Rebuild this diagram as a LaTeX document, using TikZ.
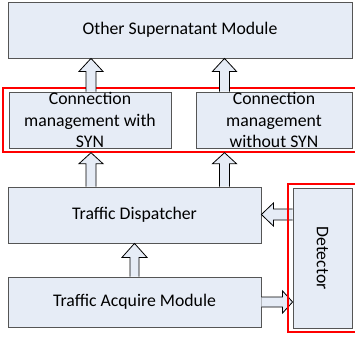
\documentclass[tikz,border=0pt]{standalone}
\usepackage{fontspec}
\setmainfont{Carlito}
\usepackage{graphicx}
\usetikzlibrary{calc}
\definecolor{boxfill}{RGB}{230,236,246}
\definecolor{boxline}{RGB}{85,85,85}

% vertical block arrow: base #1, tip #2, half shaft #3, half head #4, head length #5
\newcommand\fatv[5]{%
  \draw[fat] let \p1=(#1), \p2=(#2), \n1={sign(\y1-\y2)} in
    ({\x1-#3},\y1) -- ({\x1-#3},{\y2+\n1*#5}) -- ({\x1-#4},{\y2+\n1*#5}) -- (\x1,\y2)
    -- ({\x1+#4},{\y2+\n1*#5}) -- ({\x1+#3},{\y2+\n1*#5}) -- ({\x1+#3},\y1);}
% horizontal block arrow: base #1, tip #2, half shaft #3, half head #4, head length #5
\newcommand\fath[5]{%
  \draw[fat] let \p1=(#1), \p2=(#2), \n1={sign(\x1-\x2)} in
    (\x1,{\y1-#3}) -- ({\x2+\n1*#5},{\y1-#3}) -- ({\x2+\n1*#5},{\y1-#4}) -- (\x2,\y1)
    -- ({\x2+\n1*#5},{\y1+#4}) -- ({\x2+\n1*#5},{\y1+#3}) -- (\x1,{\y1+#3});}

\begin{document}
\begin{tikzpicture}[x=1bp,y=-1bp,
  module/.style={draw=boxline, fill=boxfill, line width=0.8bp, inner sep=0pt},
  label text/.style={inner sep=0pt, align=center, font=\fontsize{17.8}{22}\selectfont},
  group/.style={draw=red, line width=1.4bp, inner sep=0pt, fill=none},
  fat/.style={draw=black, fill=boxfill, line width=0.8bp, line join=miter}]
  \useasboundingbox (0,0) rectangle (355,337);

  % modules
  \node[module, minimum width=344bp, minimum height=56bp] (top) at (180,30) {};
  \node[label text] (toptext) at (top) {Other Supernatant Module};
  \node[module, minimum width=162bp, minimum height=56bp] (conn1) at (90,120) {};
  \node[label text] (conn1text) at (conn1) {Connection\\management with\\SYN};
  \node[module, minimum width=156bp, minimum height=56bp] (conn2) at (274,120) {};
  \node[label text] (conn2text) at (conn2) {Connection\\management\\without SYN};
  \node[module, minimum width=253bp, minimum height=56bp] (dispatch) at (134.5,215) {};
  \node[label text] (dispatchtext) at (dispatch) {Traffic Dispatcher};
  \node[module, minimum width=253bp, minimum height=50bp] (acquire) at (134.5,302) {};
  \node[label text] (acquiretext) at (acquire) {Traffic Acquire Module};
  \node[module, minimum width=59bp, minimum height=140bp] (detector) at (322.5,258) {};
  \node[label text] (detectortext) at (detector) {\rotatebox{-90}{Detector}};

  % red frame round the connection managers, open past the right edge
  \node[group, minimum width=365bp, minimum height=64bp] (connset) at (185.5,120) {};

  % arrow columns and rows
  \coordinate (colA) at (91,0);
  \coordinate (colB) at (224.5,0);
  \coordinate (rowA) at (0,214.5);
  \coordinate (rowB) at (0,302);

  % block arrows
  \fatv{conn1.north -| colA}{top.south -| colA}{5bp}{12bp}{13bp}
  \fatv{conn2.north -| colB}{top.south -| colB}{5bp}{12bp}{13bp}
  \fatv{dispatch.north -| colA}{connset.south -| colA}{5bp}{12bp}{11bp}
  \fatv{dispatch.north -| colB}{connset.south -| colB}{5bp}{12bp}{11bp}
  \fatv{acquire.north}{dispatch.south}{4.5bp}{12.5bp}{14bp}
  \fath{detector.west |- rowA}{dispatch.east |- rowA}{5.5bp}{11.5bp}{12bp}
  \fath{acquire.east |- rowB}{detector.west |- rowB}{5bp}{11bp}{10bp}

  % red frame round the detector, open past the right edge
  \node[group, minimum width=79bp, minimum height=148bp] (detset) at (327.5,258) {};
\end{tikzpicture}
\end{document}
